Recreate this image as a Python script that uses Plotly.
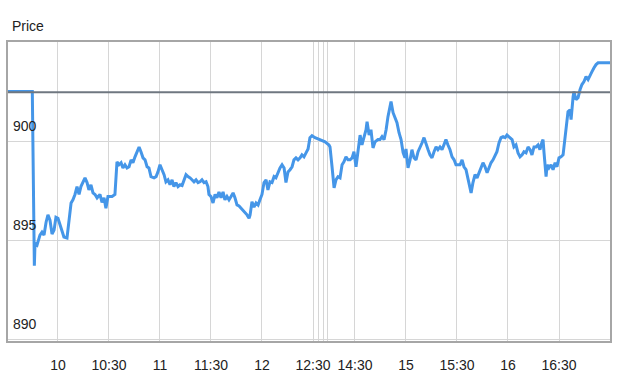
import plotly.graph_objects as go

# chart minutes on the session time axis (lunch break compressed)
minutes = [0, 14.3, 15.5, 15.9, 17.1, 18.8, 20.0, 21.2, 22.4, 23.5, 24.7, 25.9, 27.1, 28.2, 29.4,
           31.2, 32.9, 34.7, 35.9, 37.1, 38.2, 39.4, 40.6, 41.8, 42.9, 44.1, 45.3, 46.5, 47.6,
           48.8, 50.0, 51.2, 52.4, 54.1, 55.3, 56.5, 57.6, 58.8, 61.2, 62.9, 64.1, 65.3, 66.5,
           67.6, 68.8, 70.0, 71.2, 72.4, 73.5, 74.7, 75.9, 77.1, 78.2, 79.4, 80.6, 81.8, 82.9,
           84.1, 85.9, 87.1, 88.2, 89.4, 90.6, 91.8, 92.9, 94.1, 95.3, 96.5, 97.6, 98.8, 100.0,
           101.2, 102.4, 103.5, 104.7, 105.9, 107.1, 108.2, 109.4, 110.6, 111.8, 112.9, 114.1,
           115.3, 116.5, 117.6, 118.2, 119.4, 120.6, 121.8, 122.9, 124.1, 125.3, 126.5, 127.6,
           128.8, 130.0, 131.2, 132.4, 133.5, 134.7, 135.9, 137.1, 138.2, 139.4, 140.6, 141.8,
           142.4, 143.5, 144.7, 145.9, 147.1, 148.2, 149.4, 150.6, 151.8, 152.9, 154.1, 155.3,
           156.5, 157.6, 158.8, 160.0, 161.2, 162.4, 163.5, 164.7, 165.9, 167.1, 168.2, 169.4,
           170.6, 171.8, 172.9, 174.1, 175.3, 176.5, 177.6, 178.8, 180.6, 183.5, 186.5, 188.8,
           189.4, 190.6, 191.8, 192.9, 194.1, 195.3, 196.5, 197.6, 198.8, 200.0, 201.2, 202.4,
           203.5, 204.7, 205.9, 207.1, 208.2, 209.4, 210.6, 211.2, 212.4, 213.5, 214.7, 215.9,
           217.6, 218.8, 220.0, 221.2, 222.4, 223.5, 224.7, 225.3, 226.5, 227.6, 228.8, 230.0,
           231.2, 232.4, 233.5, 234.1, 235.3, 236.5, 237.6, 238.8, 240.0, 241.2, 242.4, 243.5,
           244.7, 245.9, 247.1, 248.2, 249.4, 250.6, 251.8, 252.9, 254.1, 255.3, 256.5, 257.6,
           258.8, 260.0, 261.2, 262.4, 263.5, 264.7, 265.9, 267.1, 268.2, 269.4, 270.6, 271.8,
           272.4, 273.5, 274.7, 275.9, 277.1, 278.2, 279.4, 280.6, 281.8, 282.9, 284.1, 285.3,
           286.5, 287.6, 288.8, 290.0, 291.2, 292.4, 293.5, 294.7, 296.5, 297.6, 298.8, 300.0,
           301.2, 302.4, 303.5, 304.7, 305.9, 307.1, 308.2, 309.4, 310.6, 311.8, 312.9, 314.1,
           314.7, 315.3, 316.5, 317.1, 318.2, 319.4, 320.6, 321.8, 322.9, 324.1, 325.3, 326.5,
           327.6, 328.8, 329.4, 330.6, 331.2, 332.4, 332.9, 334.1, 335.3, 336.5, 337.6, 338.8,
           340.0, 341.2, 342.4, 343.5, 344.7, 345.9, 347.1, 354.1]

prices = [902.5, 902.5, 893.7, 894.85, 894.75, 895.25, 895.4, 895.25, 895.9, 896.27, 896.0, 895.3,
          895.5, 896.15, 896.1, 895.65, 895.15, 895.1, 896.0, 896.87, 897.03, 897.3, 897.7, 897.3,
          897.7, 897.94, 898.14, 897.9, 897.53, 897.79, 897.38, 897.3, 897.13, 897.3, 896.9,
          897.13, 896.6, 897.2, 897.2, 897.3, 898.95, 898.8, 898.9, 898.64, 898.8, 898.64, 898.7,
          899.05, 898.9, 899.2, 899.46, 899.7, 899.46, 899.15, 899.05, 898.7, 898.64, 898.2,
          898.14, 898.2, 898.44, 898.8, 898.55, 898.3, 897.94, 898.04, 897.79, 898.04, 897.7,
          897.9, 897.7, 897.79, 897.75, 898.04, 898.3, 898.2, 898.14, 898.04, 897.94, 898.04,
          897.9, 897.94, 898.04, 897.9, 897.94, 897.7, 897.3, 897.2, 896.87, 897.3, 897.13,
          897.43, 897.13, 897.43, 897.03, 897.2, 897.03, 897.2, 897.38, 897.13, 896.77, 896.72,
          896.6, 896.5, 896.4, 896.27, 896.1, 896.27, 896.93, 896.66, 896.87, 896.77, 897.03,
          897.3, 897.9, 898.04, 897.53, 897.94, 897.9, 898.2, 898.14, 898.4, 898.64, 898.8,
          898.64, 897.9, 898.44, 898.55, 898.7, 899.05, 899.15, 899.05, 899.15, 899.3, 899.2,
          899.4, 899.6, 900.17, 900.27, 900.17, 900.07, 899.96, 899.8, 899.7, 898.7, 897.63,
          898.04, 898.2, 898.14, 898.8, 898.95, 899.2, 899.05, 899.05, 899.15, 899.46, 898.7,
          899.56, 900.3, 899.8, 900.17, 900.57, 900.97, 900.3, 900.57, 899.65, 899.96, 900.07,
          900.07, 900.22, 900.07, 900.57, 901.23, 901.84, 901.99, 901.43, 901.18, 900.92,
          900.42, 900.07, 899.41, 899.15, 899.6, 898.64, 899.05, 899.56, 899.15, 899.05, 899.46,
          899.65, 899.9, 900.17, 899.8, 899.56, 899.3, 899.15, 899.46, 899.7, 899.56, 899.7,
          899.56, 899.8, 900.07, 899.8, 899.56, 899.2, 899.05, 898.8, 898.8, 898.8, 899.05,
          898.7, 898.55, 898.04, 897.7, 897.38, 897.9, 898.3, 898.14, 898.4, 898.55, 898.9,
          898.7, 898.4, 898.64, 898.9, 899.05, 899.3, 899.46, 899.9, 900.17, 900.22, 900.17,
          900.3, 900.22, 900.07, 899.7, 899.8, 899.4, 899.2, 899.3, 899.46, 899.4, 899.7,
          899.56, 899.3, 899.7, 899.7, 899.8, 899.56, 899.95, 900.07, 899.4, 898.2, 898.8,
          898.64, 898.8, 898.55, 898.9, 898.7, 899.15, 899.2, 899.3, 900.07, 900.92, 901.48,
          901.58, 901.08, 902.24, 902.5, 902.09, 902.19, 902.6, 902.85, 903.0, 903.25, 903.1,
          903.35, 903.5, 903.7, 903.86, 903.95, 903.95]

prev_close = 902.46

tick_labels = ["10", "10:30", "11", "11:30", "12", "12:30", "", "", "", "14:30", "15", "15:30", "16", "16:30"]
tick_pos = [29.4, 59.4, 89.4, 119.4, 149.4, 179.4, 182.4, 185.3, 188.2, 204.1, 234.1, 264.1, 294.1, 324.1]
y_ticks = [890, 895, 900]

FONT = "Liberation Sans, Arial, sans-serif"
FSIZE = 14

fig = go.Figure()
fig.add_trace(go.Scatter(x=minutes, y=prices, mode="lines",
                         line=dict(color="#4596e8", width=3), hoverinfo="skip"))
fig.add_hline(y=prev_close, line=dict(color="#6f7780", width=2), layer="above")

annotations = [dict(text="Price", xref="paper", yref="paper", x=0, y=1,
                    xanchor="left", yanchor="bottom", xshift=2, yshift=6,
                    showarrow=False, font=dict(family=FONT, size=FSIZE, color="#222"))]
for v in y_ticks:
    annotations.append(dict(text=str(v), xref="paper", yref="y", x=0, y=v,
                            xanchor="left", yanchor="middle", xshift=3, yshift=15,
                            showarrow=False, font=dict(family=FONT, size=FSIZE, color="#222")))

fig.update_layout(
    width=640, height=390,
    margin=dict(l=8, r=30, t=42, b=49, autoexpand=False),
    paper_bgcolor="white", plot_bgcolor="white",
    showlegend=False,
    font=dict(family=FONT, size=FSIZE, color="#222"),
    annotations=annotations,
)
fig.update_xaxes(range=[0, 354.1], tickvals=tick_pos, ticktext=tick_labels, tickangle=0,
                 showgrid=True, gridcolor="#d6d6d6", gridwidth=1,
                 showline=True, linecolor="#a6a6a6", linewidth=2, mirror=True,
                 ticks="", ticklabelstandoff=10, zeroline=False, automargin=False)
fig.update_yaxes(range=[889.9, 905.0], tickvals=y_ticks, showticklabels=False,
                 showgrid=True, gridcolor="#d6d6d6", gridwidth=1,
                 showline=True, linecolor="#a6a6a6", linewidth=1.5, mirror=True,
                 ticks="", zeroline=False, automargin=False)

fig.write_html("out.html")
